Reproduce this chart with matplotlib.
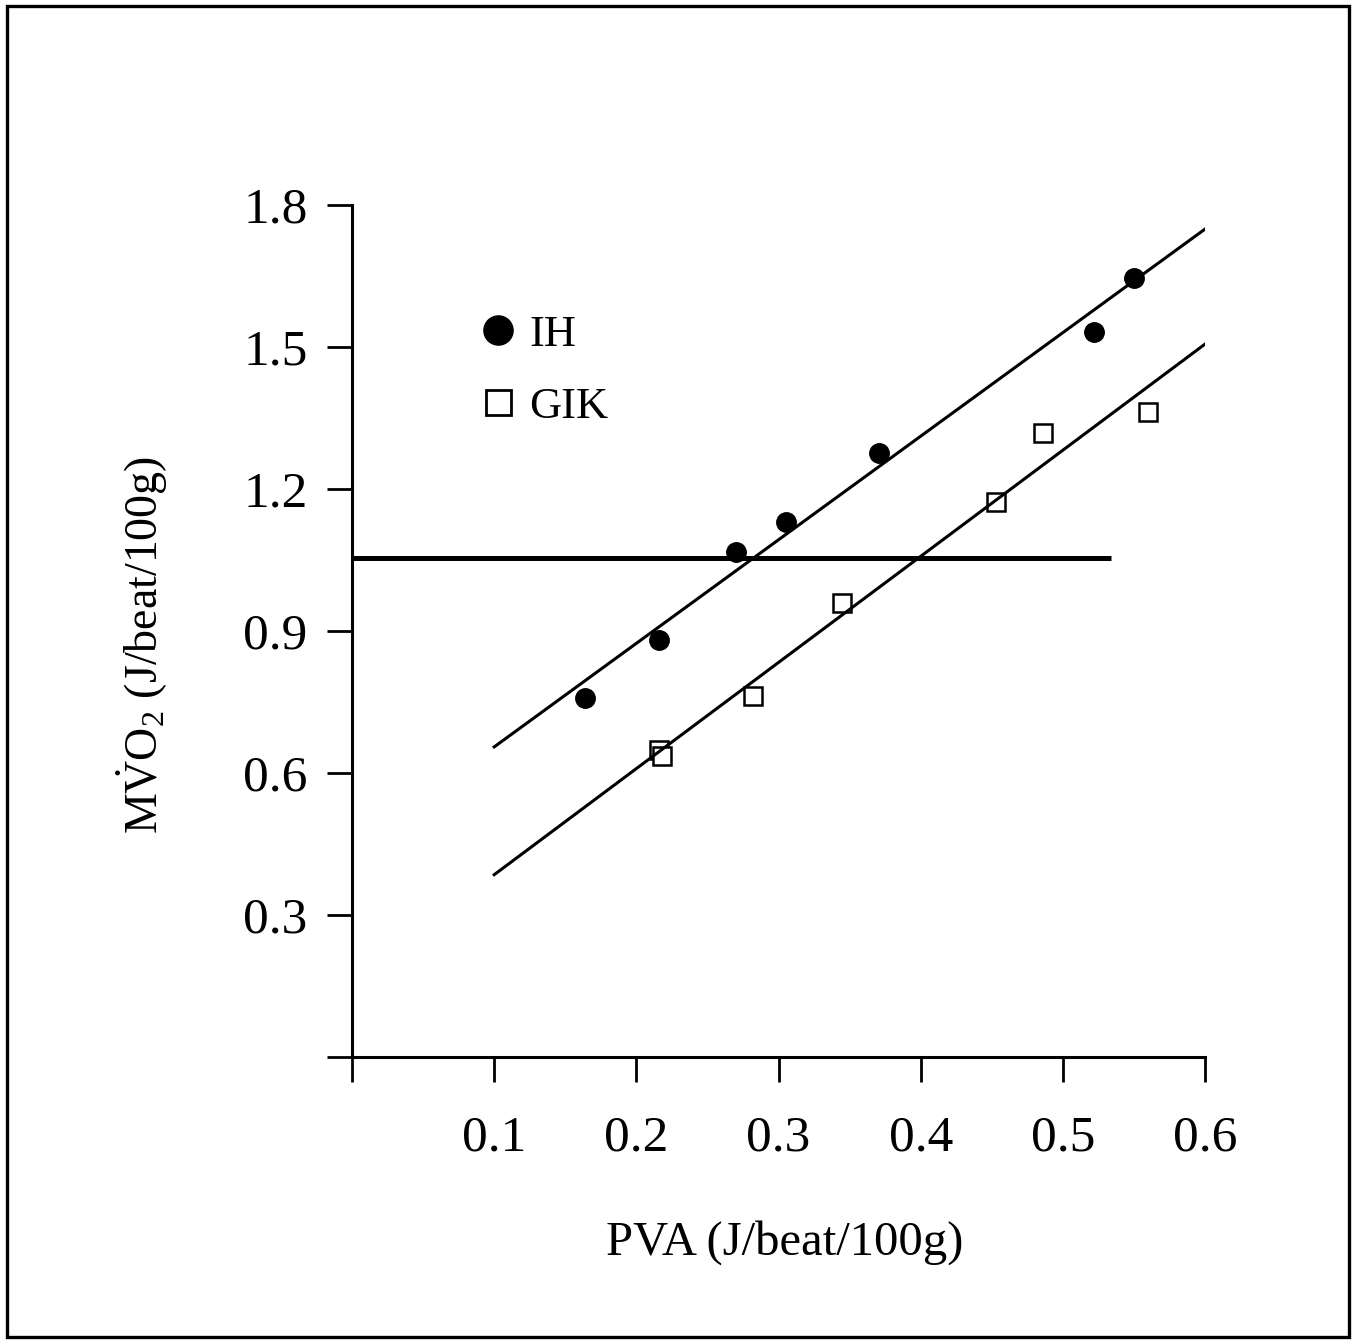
import matplotlib
matplotlib.use("Agg")
import matplotlib.pyplot as plt
from matplotlib.lines import Line2D
from matplotlib.patches import Rectangle

# data
ih_pva = [0.164, 0.216, 0.270, 0.305, 0.371, 0.522, 0.550]
ih_mvo2 = [0.758, 0.881, 1.067, 1.130, 1.276, 1.532, 1.646]

gik_pva = [0.216, 0.218, 0.282, 0.345, 0.453, 0.486, 0.560]
gik_mvo2 = [0.649, 0.636, 0.763, 0.959, 1.173, 1.318, 1.363]

# regression lines (end points)
fit_x = [0.1, 0.6]
ih_fit_y = [0.655, 1.749]
gik_fit_y = [0.385, 1.506]

# horizontal reference line
ref_x = [0.0, 0.534]
ref_y = 1.054

xticks = [0, 0.1, 0.2, 0.3, 0.4, 0.5, 0.6]
xticklabels = ["", "0.1", "0.2", "0.3", "0.4", "0.5", "0.6"]
yticks = [0, 0.3, 0.6, 0.9, 1.2, 1.5, 1.8]
yticklabels = ["", "0.3", "0.6", "0.9", "1.2", "1.5", "1.8"]

plt.rcParams['font.family'] = ['Liberation Serif', 'DejaVu Serif']
plt.rcParams['mathtext.fontset'] = 'custom'
plt.rcParams['mathtext.rm'] = 'Liberation Serif'
plt.rcParams['mathtext.it'] = 'Liberation Serif:italic'

fig = plt.figure(figsize=(13.55, 13.43), dpi=100)
ax = fig.add_axes([0.2598, 0.2130, 0.6295, 0.6344])

ax.plot(ih_pva, ih_mvo2, 'o', color='black', markersize=14, clip_on=False)
ax.plot(gik_pva, gik_mvo2, 's', markerfacecolor='white', markeredgecolor='black',
        markeredgewidth=1.8, markersize=13, clip_on=False)

ax.plot(fit_x, ih_fit_y, color='black', lw=2.2)
ax.plot(fit_x, gik_fit_y, color='black', lw=2.2)
ax.plot(ref_x, [ref_y, ref_y], color='black', lw=3.6, solid_capstyle='butt')

ax.set_xlim(0, 0.6)
ax.set_ylim(0, 1.8)
ax.set_xticks(xticks)
ax.set_xticklabels(xticklabels)
ax.set_yticks(yticks)
ax.set_yticklabels(yticklabels)

for s in ['top', 'right']:
    ax.spines[s].set_visible(False)
for s in ['left', 'bottom']:
    ax.spines[s].set_linewidth(2.2)

ax.tick_params(axis='x', direction='out', length=18, width=2, pad=24, labelsize=37)
ax.tick_params(axis='y', direction='out', length=18, width=2, pad=14, labelsize=37)

handles = [
    Line2D([], [], marker='o', ls='none', color='black', markersize=21),
    Line2D([], [], marker='s', ls='none', markerfacecolor='white',
           markeredgecolor='black', markeredgewidth=2, markersize=18),
]
ax.legend(handles, ["IH", "GIK"], loc='upper left', bbox_to_anchor=(0.119, 0.892),
          frameon=False, fontsize=32, handletextpad=0.1, labelspacing=0.72,
          handlelength=1.2, borderaxespad=0)

fig.text(0.579, 0.075, "PVA (J/beat/100g)", ha='center', va='center', fontsize=35)
fig.text(0.105, 0.52, r"M$\dot{\mathrm{V}}$O$_2$ (J/beat/100g)", ha='center', va='center',
         fontsize=33, rotation=90)

# outer frame
fig.patches.append(Rectangle((7 / 1355, 6 / 1343), 1342 / 1355, 1331 / 1343,
                             transform=fig.transFigure, fill=False,
                             edgecolor='black', lw=2.4))

fig.savefig("out.png", dpi=100)
